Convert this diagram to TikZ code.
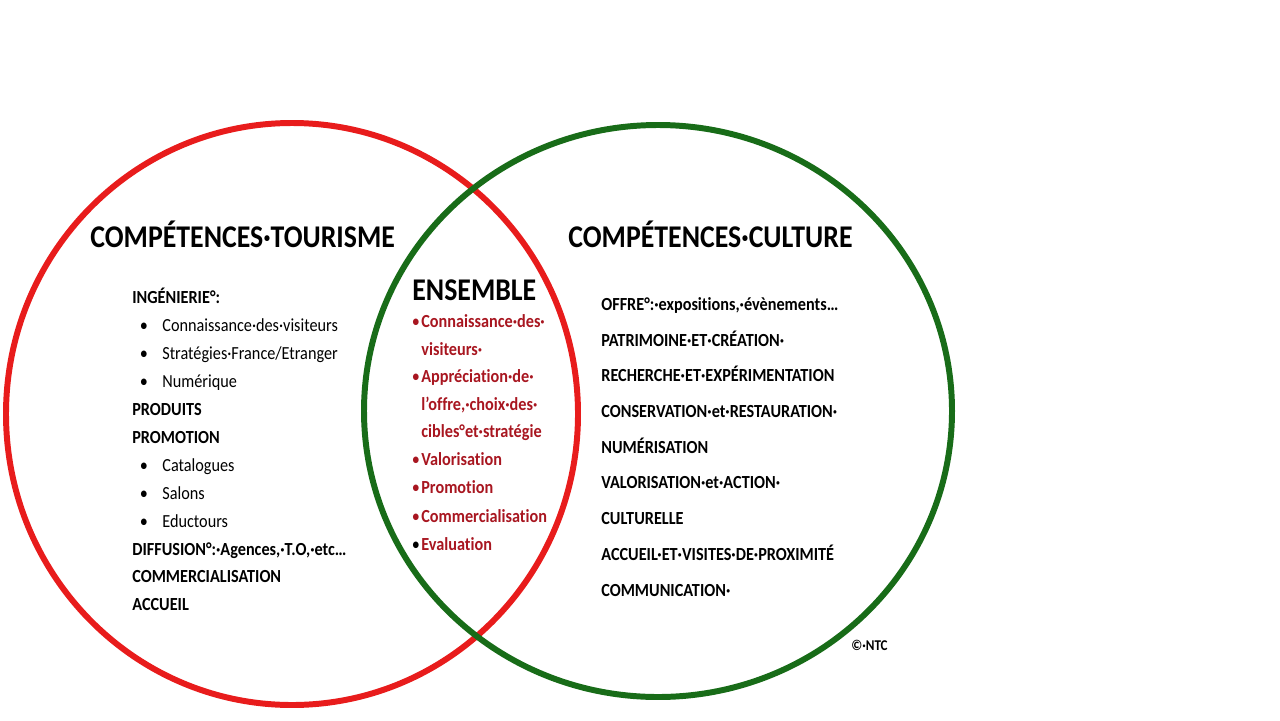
\documentclass[tikz,border=0pt]{standalone}
\usepackage{fontspec}
\setmainfont{Carlito}[FakeStretch=0.88, Ligatures=NoCommon]
\definecolor{vennred}{RGB}{232,28,28}
\definecolor{venngreen}{RGB}{24,108,24}
\definecolor{itemred}{RGB}{168,22,32}

\begin{document}
\begin{tikzpicture}[x=0.02cm, y=-0.02cm,
    bigtitle/.style={anchor=base west, inner sep=0pt, font=\fontsize{18}{20}\selectfont\bfseries},
    heading/.style={anchor=base west, inner sep=0pt, font=\fontsize{10.5}{12}\selectfont\bfseries},
    plainitem/.style={anchor=base west, inner sep=0pt, font=\fontsize{10.5}{12}\selectfont},
    reditem/.style={heading, text=itemred},
    dot/.style={anchor=base, inner sep=0pt, font=\fontsize{10.5}{12}\selectfont}]
            \useasboundingbox (0,0) rectangle (1280,720);

            % The two circles
            \draw[vennred, line width=3.4pt] (292,414) ellipse [x radius=286, y radius=291];
            \draw[venngreen, line width=3.4pt] (658,411) ellipse [x radius=294, y radius=286];

            % Titles
            \node[bigtitle] (tourisme) at (90,247) {COMPÉTENCES·TOURISME};
            \node[bigtitle] (culture) at (568,247) {COMPÉTENCES·CULTURE};
            \node[bigtitle] (ensemble) at (412,300) {ENSEMBLE};

            % Tourism list
            \node[heading] (ingenierie) at (132,303) {INGÉNIERIE°:};
            \node[dot] (b1) at (144,331) {•};
            \node[plainitem] (visiteurs) at (162,331) {Connaissance·des·visiteurs};
            \node[dot] (b2) at (144,359) {•};
            \node[plainitem] (strategies) at (162,359) {Stratégies·France/Etranger};
            \node[dot] (b3) at (144,387) {•};
            \node[plainitem] (numerique) at (162,387) {Numérique};
            \node[heading] (produits) at (132,415) {PRODUITS};
            \node[heading] (promotion) at (132,443) {PROMOTION};
            \node[dot] (b4) at (144,471) {•};
            \node[plainitem] (catalogues) at (162,471) {Catalogues};
            \node[dot] (b5) at (144,499) {•};
            \node[plainitem] (salons) at (162,499) {Salons};
            \node[dot] (b6) at (144,527) {•};
            \node[plainitem] (eductours) at (162,527) {Eductours};
            \node[heading] (diffusion) at (132,555) {DIFFUSION°:·Agences,·T.O,·etc…};
            \node[heading] (commerce) at (132,582) {COMMERCIALISATION};
            \node[heading] (accueil) at (132,610) {ACCUEIL};

            % Shared list
            \node[dot, text=itemred] (r1) at (416,327) {•};
            \node[reditem] (connaissance) at (421,327) {Connaissance·des·};
            \node[reditem] (visiteursb) at (421,355) {visiteurs·};
            \node[dot, text=itemred] (r2) at (416,382) {•};
            \node[reditem] (appreciation) at (421,382) {Appréciation·de·};
            \node[reditem] (offre) at (421,410) {l’offre,·choix·des·};
            \node[reditem] (cibles) at (421,437) {cibles°et·stratégie};
            \node[dot, text=itemred] (r3) at (416,465) {•};
            \node[reditem] (valorisation) at (421,465) {Valorisation};
            \node[dot, text=itemred] (r4) at (416,493) {•};
            \node[reditem] (promo) at (421,493) {Promotion};
            \node[dot, text=itemred] (r5) at (416,522) {•};
            \node[reditem] (commerceb) at (421,522) {Commercialisation};
            \node[dot] (r6) at (416,550) {•};
            \node[reditem] (evaluation) at (421,550) {Evaluation};

            % Culture list
            \node[heading] (offreb) at (601,310) {OFFRE°:·expositions,·évènements…};
            \node[heading] (patrimoine) at (601,346) {PATRIMOINE·ET·CRÉATION·};
            \node[heading] (recherche) at (601,381) {RECHERCHE·ET·EXPÉRIMENTATION};
            \node[heading] (conservation) at (601,417) {CONSERVATION·et·RESTAURATION·};
            \node[heading] (numerisation) at (601,453) {NUMÉRISATION};
            \node[heading] (action) at (601,488) {VALORISATION·et·ACTION·};
            \node[heading] (culturelle) at (601,524) {CULTURELLE};
            \node[heading] (proximite) at (601,560) {ACCUEIL·ET·VISITES·DE·PROXIMITÉ};
            \node[heading] (communication) at (601,596) {COMMUNICATION·};
            \node[heading, font=\fontsize{8.5}{10}\selectfont\bfseries] (ntc) at (851,650) {©·NTC};
        \end{tikzpicture}
\end{document}
